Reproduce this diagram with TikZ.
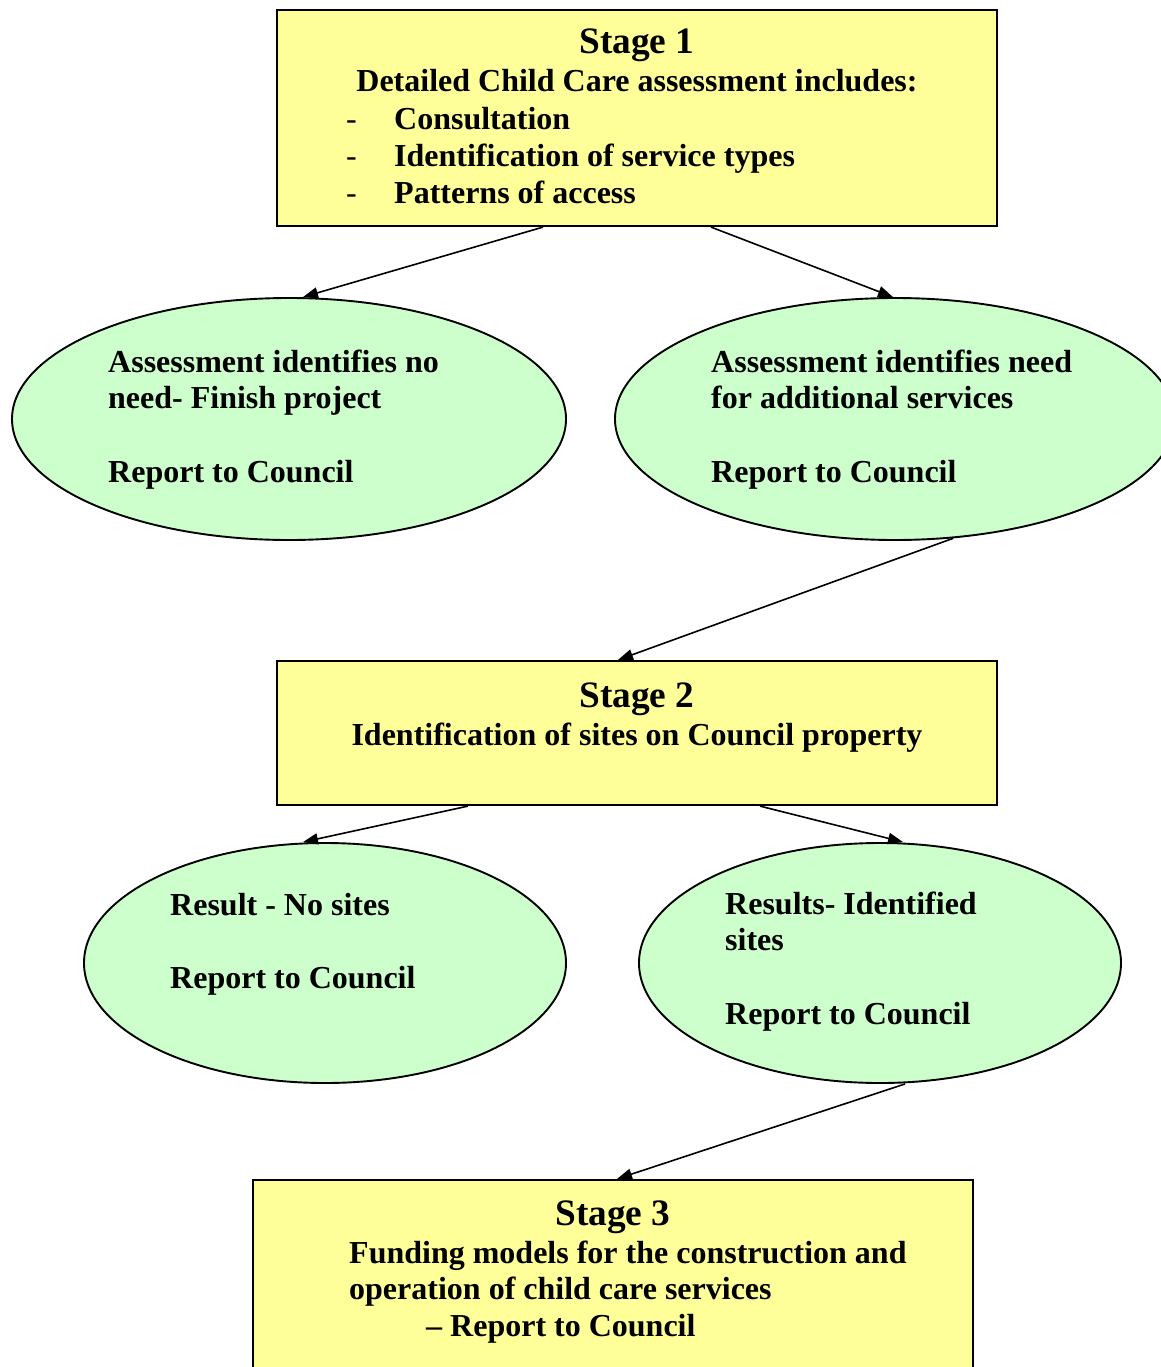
\documentclass[tikz,border=0pt]{standalone}
\usepackage{fontspec}
\setmainfont{Liberation Serif}
\usetikzlibrary{shapes.geometric,arrows.meta}
\definecolor{stagefill}{RGB}{255,255,153}
\definecolor{ovalfill}{RGB}{204,255,204}
\begin{document}
\begin{tikzpicture}[x=1pt,y=-1pt,
  stagebox/.style={draw=black,line width=2.2pt,fill=stagefill,rectangle,inner sep=0pt},
  oval/.style={draw=black,line width=1.9pt,fill=ovalfill,ellipse,inner sep=0pt},
  head/.style={font=\fontsize{37.33}{43}\selectfont\bfseries,inner sep=0pt,anchor=base},
  body/.style={font=\fontsize{32}{36.8}\selectfont\bfseries,inner sep=0pt},
  block/.style={body,anchor=base west,text width=580pt,align=flush left,
    execute at begin node={\spaceskip=0pt\xspaceskip=0pt\relax}},
  arr/.style={line width=1.6pt,-{Triangle[length=15pt,width=11pt]}}]
\useasboundingbox (0,0) rectangle (1161,1367);
\fill[white] (0,0) rectangle (1161,1367);

% Stage 1
\node[stagebox,minimum width=720pt,minimum height=216pt] (b1) at (637,118) {};
\node[head] (s1h) at (637,54) {Stage 1};
\node[body,anchor=base] (s1a) at (637,92) {Detailed Child Care assessment includes:};
\node[block] (s1b) at (346,130) {\makebox[48pt][l]{\mdseries -}Consultation\\
  \makebox[48pt][l]{\mdseries -}Identification of service types\\
  \makebox[48pt][l]{\mdseries -}Patterns of access};

% outcomes of the assessment
\node[oval,minimum width=554pt,minimum height=242pt] (e1) at (289,419) {};
\node[block] (t1) at (108,372) {Assessment identifies no\\need- Finish project\\[36.8pt]Report to Council};
\node[oval,minimum width=560pt,minimum height=242pt] (e2) at (895,419) {};
\node[block] (t2) at (711,372) {Assessment identifies need\\for additional services\\[36.8pt]Report to Council};

% Stage 2
\node[stagebox,minimum width=720pt,minimum height=144pt] (b2) at (637,733) {};
\node[head] (s2h) at (637,707) {Stage 2};
\node[body,anchor=base] (s2a) at (637,745) {Identification of sites on Council property};

% outcomes of the site search
\node[oval,minimum width=482pt,minimum height=240pt] (e3) at (325,963) {};
\node[block] (t3) at (170,915) {Result - No sites\\[36.8pt]Report to Council};
\node[oval,minimum width=482pt,minimum height=240pt] (e4) at (880,963) {};
\node[block] (t4) at (725,914) {Results- Identified\\sites\\[36.8pt]Report to Council};

% Stage 3
\node[stagebox,minimum width=720pt,minimum height=240pt] (b3) at (613,1300) {};
\node[head] (s3h) at (613,1225) {Stage 3};
\node[block] (s3t) at (349,1263) {Funding models for the construction and\\
  operation of child care services\\\hspace*{77pt}– Report to Council};

% connectors
\draw[arr] ([xshift=-94pt]b1.south) -- ([xshift=14pt]e1.north);
\draw[arr] ([xshift=74pt]b1.south) -- ([xshift=-2pt]e2.north);
\draw[arr] (e2.-64) -- ([xshift=-19pt]b2.north);
\draw[arr] ([xshift=-169pt]b2.south) -- ([xshift=-22pt]e3.north);
\draw[arr] ([xshift=123pt]b2.south) -- ([xshift=23pt]e4.north);
\draw[arr] ([xshift=25pt]e4.south) -- ([xshift=4pt]b3.north);
\end{tikzpicture}
\end{document}
